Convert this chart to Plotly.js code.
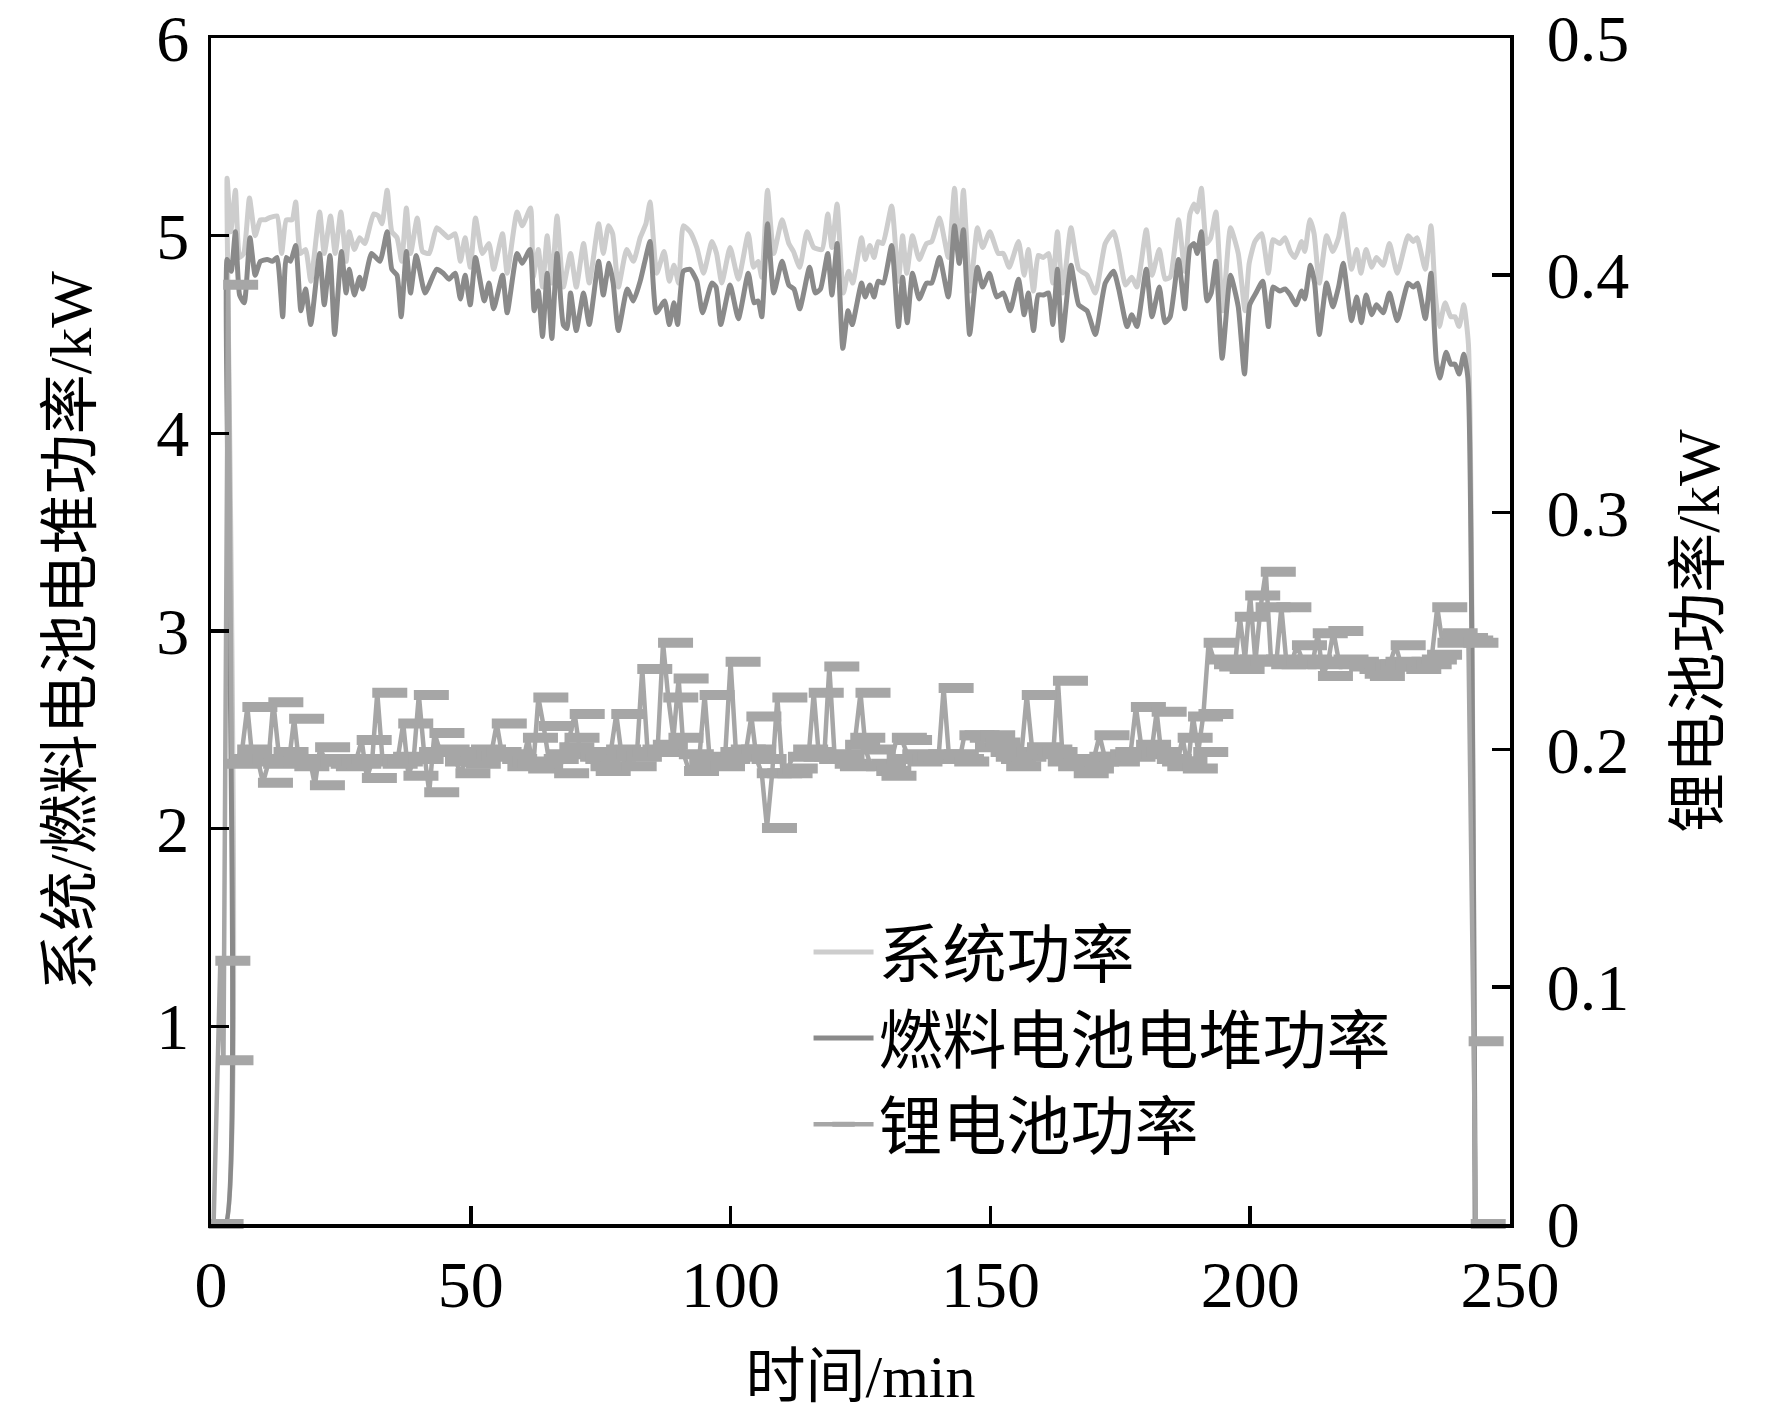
<!DOCTYPE html>
<html>
<head>
<meta charset="utf-8">
<script src="https://cdn.plot.ly/plotly-3.0.1.min.js"></script>
<style>
  html, body { margin: 0; padding: 0; background: #fff; }
  #myDiv { width: 1772px; height: 1419px; }
</style>
</head>
<body>
<div id="myDiv"></div>
<script>
// 系统功率 (kW), left axis
var sysTime = [0, 2.8, 3.1, 3.8, 4.7, 5.5, 6.3, 7.4, 8.5, 9.5, 10.4, 11.2, 12.7, 13.6, 14.5, 15.6, 16.3, 17.2, 18.2, 19.2,
  20.9, 21.8, 23.0, 23.9, 25.0, 26.0, 26.6, 27.6, 28.6, 29.6, 31.3, 32.2, 32.9, 33.9, 34.8, 35.8, 36.7, 37.6, 38.4, 39.7,
  40.7, 42.0, 43.4, 44.4, 45.7, 47.0, 48.0, 48.9, 49.9, 50.9, 52.2, 53.5, 54.4, 56.1, 57.0, 58.9, 59.9, 61.5, 62.0, 63.0,
  63.8, 64.7, 65.6, 66.6, 67.8, 69.2, 70.3, 71.7, 72.8, 74.6, 75.5, 76.5, 77.3, 78.4, 80.0, 81.3, 82.6, 83.7, 84.5, 85.8,
  87.2, 88.2, 89.1, 90.0, 90.9, 92.2, 93.5, 94.8, 96.4, 97.3, 98.3, 99.9, 101.5, 103.4, 104.4, 105.3, 106.0, 107.1, 108.3, 109.9,
  111.2, 112.1, 113.3, 114.7, 116.0, 117.6, 118.7, 119.5, 120.5, 121.7, 122.7, 123.5, 125.2, 125.9, 126.8, 127.6, 128.4, 129.3, 131.0, 132.3,
  133.1, 133.9, 135.0, 136.3, 137.7, 138.7, 140.2, 141.9, 143.1, 144.0, 144.8, 146.1, 147.5, 148.5, 149.9, 151.5, 152.5, 153.6, 155.4, 156.5,
  157.3, 158.3, 159.2, 160.2, 161.2, 162.0, 162.9, 163.9, 165.5, 167.0, 168.6, 170.2, 172.1, 173.7, 174.7, 176.0, 177.2, 178.2, 180.0, 181.1,
  182.5, 183.6, 184.6, 186.2, 187.4, 188.4, 189.2, 189.8, 190.6, 191.6, 192.4, 193.4, 194.7, 196.2, 197.7, 199.0, 199.8, 200.9, 202.2, 203.5,
  204.4, 205.7, 206.7, 207.7, 208.6, 209.9, 210.5, 211.5, 212.3, 213.3, 214.7, 215.9, 217.0, 217.9, 219.5, 220.5, 221.3, 222.3, 223.4, 224.3,
  225.6, 226.8, 228.3, 230.4, 231.4, 232.1, 233.7, 234.8, 235.6, 236.4, 237.5, 238.6, 239.4, 240.2, 241.1, 242.0, 243.3];
var sysPower = [0, 0, 5.29, 5.02, 5.23, 4.89, 4.91, 5.19, 5.00, 5.08, 5.08, 5.09, 5.10, 4.91, 5.08, 5.08, 5.17, 4.91, 4.93, 4.77,
  5.12, 4.91, 5.10, 4.91, 5.12, 4.87, 5.02, 4.93, 4.99, 4.96, 5.11, 5.10, 5.06, 5.23, 5.02, 4.99, 4.87, 5.14, 4.91, 5.09,
  4.92, 4.91, 5.04, 5.02, 4.99, 5.01, 4.87, 4.99, 4.84, 5.09, 4.91, 4.96, 4.83, 5.01, 4.81, 5.12, 5.05, 5.14, 4.79, 4.93,
  4.74, 5.00, 4.76, 5.10, 4.74, 4.91, 4.74, 4.96, 4.76, 5.06, 4.91, 5.05, 5.01, 4.74, 4.93, 4.87, 4.99, 5.06, 5.17, 4.81,
  4.92, 4.77, 4.85, 4.76, 5.05, 5.02, 4.94, 4.81, 4.97, 4.91, 4.76, 4.94, 4.78, 5.01, 4.84, 4.87, 4.79, 5.23, 4.91, 5.08,
  4.96, 4.92, 4.84, 5.02, 4.94, 4.93, 5.11, 4.94, 5.16, 4.71, 4.82, 4.76, 4.99, 4.88, 4.95, 4.89, 4.97, 4.96, 5.15, 4.77,
  5.00, 4.81, 5.00, 4.88, 4.96, 4.97, 5.09, 4.89, 5.24, 4.86, 5.23, 4.72, 5.04, 4.94, 5.02, 4.91, 4.91, 4.84, 4.97, 4.80,
  4.93, 4.72, 4.90, 4.89, 4.91, 4.76, 5.02, 4.71, 5.04, 4.83, 4.80, 4.71, 4.96, 5.02, 4.92, 4.75, 4.79, 4.74, 5.03, 4.80,
  4.93, 4.78, 4.79, 5.08, 4.82, 5.11, 5.16, 5.12, 5.24, 4.96, 4.99, 5.12, 4.62, 5.04, 4.91, 4.62, 4.86, 4.97, 5.01, 4.81,
  4.98, 4.96, 4.99, 4.92, 4.89, 4.97, 4.92, 5.08, 5.01, 4.76, 5.00, 4.92, 4.99, 5.11, 4.83, 4.93, 4.81, 4.93, 4.84, 4.89,
  4.85, 4.96, 4.81, 5.00, 4.97, 4.99, 4.83, 5.05, 4.71, 4.54, 4.66, 4.59, 4.59, 4.54, 4.65, 4.45, 0];

// 燃料电池电堆功率 (kW), left axis
var stackTime = [0, 2.8, 3.1, 3.9, 4.7, 5.5, 6.4, 7.5, 8.5, 9.5, 10.8, 11.8, 12.7, 13.8, 14.5, 15.3, 16.3, 17.3, 18.2, 19.2,
  20.9, 21.8, 22.9, 23.8, 25.1, 26.0, 26.6, 27.6, 28.6, 29.2, 30.9, 32.5, 33.9, 34.8, 35.8, 36.6, 37.6, 38.4, 39.5, 41.2,
  43.4, 44.7, 45.8, 47.0, 48.0, 48.9, 49.9, 50.9, 52.6, 53.5, 54.4, 56.1, 57.0, 58.9, 59.9, 61.4, 62.2, 63.0, 63.8, 64.7,
  65.6, 66.6, 67.8, 68.5, 69.2, 70.3, 71.7, 72.8, 74.6, 75.5, 76.6, 77.4, 78.4, 80.1, 81.3, 82.6, 83.5, 84.5, 85.7, 87.3,
  88.2, 89.1, 89.8, 90.9, 92.2, 93.5, 94.6, 96.4, 97.2, 98.1, 99.9, 101.5, 103.4, 104.5, 105.3, 106.0, 107.1, 108.3, 109.9, 111.2,
  112.2, 113.3, 115.2, 116.3, 117.3, 118.7, 119.5, 120.5, 121.6, 122.6, 123.4, 125.2, 125.9, 126.8, 127.6, 128.4, 129.4, 131.0, 132.3, 133.1,
  134.0, 135.0, 136.3, 137.7, 138.7, 140.2, 141.9, 143.1, 144.0, 144.8, 146.0, 147.5, 148.5, 149.8, 151.2, 152.5, 153.8, 155.4, 156.5, 157.3,
  158.3, 159.2, 160.2, 161.2, 162.0, 162.9, 163.8, 165.5, 167.0, 168.6, 170.2, 172.1, 173.7, 174.7, 176.3, 177.2, 178.2, 180.0, 181.1, 182.5,
  183.6, 184.6, 186.2, 187.4, 188.4, 189.2, 189.8, 190.6, 191.7, 192.5, 193.4, 194.6, 196.2, 197.7, 198.9, 199.9, 201.1, 202.4, 203.5, 204.4,
  205.7, 206.7, 207.7, 208.8, 209.9, 210.5, 211.6, 212.4, 213.3, 214.7, 215.9, 217.0, 217.9, 219.5, 220.5, 221.4, 222.3, 223.4, 224.3, 225.6,
  226.8, 228.3, 230.4, 231.4, 232.2, 233.7, 234.8, 235.8, 236.5, 237.7, 238.6, 239.4, 240.2, 241.1, 241.9, 243.3];
var stackPower = [0, 0, 4.88, 4.82, 5.02, 4.70, 4.66, 4.99, 4.80, 4.87, 4.88, 4.87, 4.89, 4.59, 4.89, 4.87, 4.95, 4.62, 4.73, 4.55,
  4.91, 4.65, 4.90, 4.50, 4.92, 4.71, 4.83, 4.70, 4.79, 4.73, 4.91, 4.87, 5.02, 4.83, 4.80, 4.59, 4.92, 4.71, 4.90, 4.71,
  4.83, 4.81, 4.78, 4.81, 4.68, 4.80, 4.65, 4.89, 4.67, 4.76, 4.63, 4.80, 4.61, 4.91, 4.86, 4.93, 4.62, 4.72, 4.49, 4.81,
  4.48, 4.91, 4.55, 4.53, 4.71, 4.52, 4.71, 4.55, 4.87, 4.70, 4.86, 4.76, 4.52, 4.73, 4.67, 4.77, 4.87, 4.97, 4.61, 4.67,
  4.55, 4.66, 4.55, 4.82, 4.83, 4.77, 4.61, 4.76, 4.74, 4.55, 4.75, 4.58, 4.81, 4.66, 4.67, 4.59, 5.06, 4.71, 4.87, 4.75,
  4.73, 4.63, 4.84, 4.71, 4.73, 4.91, 4.70, 4.96, 4.43, 4.62, 4.55, 4.76, 4.69, 4.75, 4.69, 4.77, 4.76, 4.95, 4.54, 4.79,
  4.56, 4.81, 4.68, 4.76, 4.76, 4.89, 4.69, 5.05, 4.86, 5.03, 4.50, 4.84, 4.74, 4.81, 4.69, 4.71, 4.62, 4.78, 4.60, 4.71,
  4.52, 4.70, 4.70, 4.71, 4.55, 4.83, 4.47, 4.85, 4.65, 4.62, 4.50, 4.76, 4.82, 4.73, 4.54, 4.60, 4.54, 4.83, 4.59, 4.74,
  4.56, 4.59, 4.88, 4.63, 4.94, 4.96, 4.91, 5.02, 4.67, 4.71, 4.87, 4.38, 4.80, 4.64, 4.30, 4.65, 4.71, 4.77, 4.54, 4.74,
  4.72, 4.73, 4.70, 4.65, 4.72, 4.68, 4.85, 4.76, 4.50, 4.76, 4.64, 4.74, 4.86, 4.57, 4.69, 4.56, 4.70, 4.60, 4.65, 4.61,
  4.71, 4.57, 4.76, 4.74, 4.76, 4.58, 4.81, 4.37, 4.28, 4.41, 4.35, 4.35, 4.30, 4.40, 4.28, 0];

// 锂电池功率 (kW), right axis
var liTime = [0.5, 1.8, 2.4, 3.3,
  4, 5, 6, 7, 8, 9, 10, 11, 12, 13, 14, 15, 16, 17, 18, 19, 20, 21, 22, 23, 24, 25, 26, 27, 28, 29,
  30, 31, 32, 33, 34, 35, 36, 37, 38, 39, 40, 41, 42, 43, 44, 45, 46, 47, 48, 49, 50, 51, 52, 53, 54, 55, 56, 57, 58, 59,
  60, 61, 62, 63, 64, 65, 66, 67, 68, 69, 70, 71, 72, 73, 74, 75, 76, 77, 78, 79, 80, 81, 82, 83, 84, 85, 86, 87, 88, 89,
  90, 91, 92, 93, 94, 95, 96, 97, 98, 99, 100, 101, 102, 103, 104, 105, 106, 107, 108, 109, 110, 111, 112, 113, 114, 115, 116, 117, 118, 119,
  120, 121, 122, 123, 124, 125, 126, 127, 128, 129, 130, 131, 132, 133, 134, 135, 136, 137, 138, 139, 140, 141, 142, 143, 144, 145, 146, 147, 148, 149,
  150, 151, 152, 153, 154, 155, 156, 157, 158, 159, 160, 161, 162, 163, 164, 165, 166, 167, 168, 169, 170, 171, 172, 173, 174, 175, 176, 177, 178, 179,
  180, 181, 182, 183, 184, 185, 186, 187, 188, 189, 190, 191, 192, 193, 194, 195, 196, 197, 198, 199, 200, 201, 202, 203, 204, 205, 206, 207, 208, 209,
  210, 211, 212, 213, 214, 215, 216, 217, 218, 219, 220, 221, 222, 223, 224, 225, 226, 227, 228, 229, 230, 231, 232, 233, 234, 235, 236, 237, 238, 239,
  240, 241, 242, 243, 243.4];
var liPower = [0, 0.111, 0.069, 0.396,
  0.194, 0.196, 0.200, 0.218, 0.195, 0.196, 0.186, 0.194, 0.220, 0.199, 0.196, 0.195, 0.213, 0.193, 0.195, 0.196, 0.185, 0.201, 0.195, 0.196, 0.194, 0.193, 0.195, 0.194, 0.196, 0.204,
  0.188, 0.195, 0.224, 0.196, 0.194, 0.195, 0.197, 0.211, 0.189, 0.196, 0.223, 0.199, 0.182, 0.207, 0.200, 0.199, 0.195, 0.196, 0.190, 0.195, 0.194, 0.200, 0.198, 0.197, 0.199, 0.211, 0.198, 0.196, 0.193, 0.195,
  0.194, 0.205, 0.192, 0.222, 0.210, 0.196, 0.198, 0.190, 0.201, 0.205, 0.215, 0.199, 0.197, 0.196, 0.193, 0.191, 0.197, 0.200, 0.215, 0.198, 0.193, 0.197, 0.199, 0.234, 0.200, 0.199, 0.202, 0.245, 0.222, 0.205,
  0.230, 0.198, 0.191, 0.195, 0.197, 0.223, 0.195, 0.193, 0.196, 0.199, 0.237, 0.200, 0.197, 0.200, 0.214, 0.196, 0.190, 0.167, 0.190, 0.222, 0.190, 0.192, 0.197, 0.200, 0.199, 0.197, 0.224, 0.197, 0.196, 0.235,
  0.198, 0.194, 0.193, 0.202, 0.205, 0.224, 0.200, 0.193, 0.194, 0.191, 0.189, 0.196, 0.205, 0.204, 0.198, 0.195, 0.196, 0.197, 0.197, 0.198, 0.196, 0.226, 0.198, 0.196, 0.195, 0.206, 0.206, 0.205, 0.201, 0.206,
  0.203, 0.199, 0.197, 0.196, 0.193, 0.197, 0.199, 0.223, 0.201, 0.198, 0.200, 0.199, 0.195, 0.229, 0.193, 0.194, 0.196, 0.190, 0.192, 0.195, 0.197, 0.206, 0.197, 0.195, 0.198, 0.199, 0.197, 0.199, 0.218, 0.202,
  0.198, 0.199, 0.216, 0.196, 0.195, 0.193, 0.195, 0.205, 0.192, 0.214, 0.199, 0.215, 0.245, 0.238, 0.236, 0.235, 0.236, 0.234, 0.256, 0.238, 0.265, 0.237, 0.260, 0.275, 0.238, 0.236, 0.260, 0.236, 0.237, 0.244,
  0.238, 0.237, 0.236, 0.249, 0.231, 0.237, 0.250, 0.238, 0.236, 0.237, 0.235, 0.236, 0.234, 0.232, 0.231, 0.235, 0.236, 0.237, 0.244, 0.236, 0.235, 0.234, 0.237, 0.236, 0.238, 0.240, 0.260, 0.245, 0.249, 0.246,
  0.247, 0.246, 0.245, 0.077, 0];

var xTicks = [0, 50, 100, 150, 200, 250];
var yTicks = [1, 2, 3, 4, 5, 6];
var y2Ticks = [0, 0.1, 0.2, 0.3, 0.4, 0.5];
var y2TickText = ["0", "0.1", "0.2", "0.3", "0.4", "0.5"];

var W = 1772, H = 1419;
var mL = 211, mR = 262, mT = 38, mB = 195;
var xMax = 250;

// the bar symbols of the battery series sit to the right of their point
var barPx = 25;
var barShift = (barPx / 2) / ((W - mL - mR) / xMax);

var serif = "'Liberation Serif', 'Times New Roman', serif";
var cjk = "'Liberation Serif', 'Noto Sans CJK SC', serif";
var liColor = "#a6a6a6";

var traceSys = {
    x: sysTime, y: sysPower, name: "系统功率", type: "scatter", mode: "lines",
    line: { color: "#cdcdcd", width: 5, shape: "spline", smoothing: 0.5 }
};
var traceStack = {
    x: stackTime, y: stackPower, name: "燃料电池电堆功率", type: "scatter", mode: "lines",
    line: { color: "#8a8a8a", width: 5, shape: "spline", smoothing: 0.5 }
};
var traceLiLine = {
    x: liTime, y: liPower, yaxis: "y2", type: "scatter", mode: "lines",
    showlegend: false, legendgroup: "li",
    line: { color: liColor, width: 4.5 }
};
var traceLiBars = {
    x: liTime.map(function(t) { return t + barShift; }), y: liPower, yaxis: "y2",
    type: "scatter", mode: "markers", showlegend: false, legendgroup: "li", cliponaxis: false,
    marker: { symbol: "line-ew", size: barPx, color: liColor, line: { color: liColor, width: 10 } }
};
// legend entry only: reuses the first battery point, which the line already covers
var traceLiLegend = {
    x: liTime.slice(0, 1), y: liPower.slice(0, 1), yaxis: "y2", name: "锂电池功率",
    type: "scatter", mode: "lines+markers", legendgroup: "li",
    line: { color: liColor, width: 4.5 },
    marker: { symbol: "line-ew", size: 16, color: liColor, line: { color: liColor, width: 6 } }
};

var data = [traceSys, traceStack, traceLiLine, traceLiBars, traceLiLegend];

var layout = {
    width: W, height: H,
    margin: { l: mL, r: mR, t: mT, b: mB },
    paper_bgcolor: "#fff", plot_bgcolor: "#fff",
    font: { family: serif, size: 62, color: "#000" },
    showlegend: true,
    legend: {
        x: 0.46, y: 0.27, xanchor: "left", yanchor: "top",
        font: { family: "'Noto Sans CJK SC', sans-serif", size: 64, color: "#000" },
        bgcolor: "rgba(0,0,0,0)", tracegroupgap: 0, itemwidth: 60
    },
    xaxis: {
        range: [0, xMax], tickvals: xTicks, ticktext: xTicks.map(String),
        ticks: "inside", ticklen: 18, tickwidth: 3.5, tickcolor: "#000",
        showline: true, linewidth: 3.5, linecolor: "#000", mirror: true,
        showgrid: false, zeroline: false, ticklabeloverflow: "allow",
        tickfont: { family: serif, size: 66, color: "#000" },
        title: { text: "时间/min", font: { family: cjk, size: 60, color: "#000" }, standoff: 36 },
        automargin: false
    },
    yaxis: {
        range: [0, 6], tickvals: yTicks, ticktext: yTicks.map(String),
        ticks: "inside", ticklen: 18, tickwidth: 3.5, tickcolor: "#000",
        showline: true, linewidth: 3.5, linecolor: "#000",
        showgrid: false, zeroline: false, ticklabeloverflow: "allow", ticklabelstandoff: 5,
        tickfont: { family: serif, size: 66, color: "#000" },
        title: { text: "系统/燃料电池电堆功率/kW", font: { family: cjk, size: 60, color: "#000" }, standoff: 46 },
        automargin: false
    },
    yaxis2: {
        overlaying: "y", side: "right",
        range: [0, 0.5], tickvals: y2Ticks, ticktext: y2TickText,
        ticks: "inside", ticklen: 18, tickwidth: 3.5, tickcolor: "#000",
        showline: true, linewidth: 3.5, linecolor: "#000",
        showgrid: false, zeroline: false, ticklabeloverflow: "allow", ticklabelstandoff: 20,
        tickfont: { family: serif, size: 66, color: "#000" },
        title: { text: "锂电池功率/kW", font: { family: cjk, size: 60, color: "#000" }, standoff: 50 },
        automargin: false
    }
};

Plotly.newPlot("myDiv", data, layout, { displayModeBar: false, staticPlot: true });
</script>
</body>
</html>
